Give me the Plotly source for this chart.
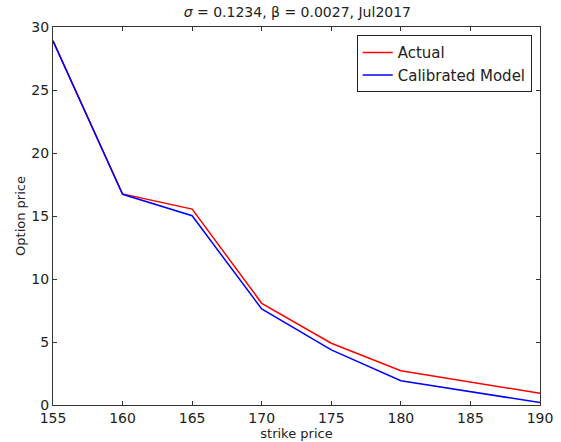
import plotly.graph_objects as go

strikes = [155, 160, 165, 170, 175, 180, 190]
actual = [28.9, 16.75, 15.55, 8.07, 4.9, 2.72, 0.93]
model = [28.9, 16.72, 15.02, 7.62, 4.37, 1.93, 0.19]
x_ticks = [155, 160, 165, 170, 175, 180, 185, 190]
y_ticks = [0, 5, 10, 15, 20, 25, 30]
title_text = "<i>σ</i> = 0.1234, β = 0.0027, Jul2017"

fig = go.Figure()
fig.add_trace(go.Scatter(x=strikes, y=actual, mode="lines", name="Actual",
                         line=dict(color="#ff0000", width=1.5)))
fig.add_trace(go.Scatter(x=strikes, y=model, mode="lines", name="Calibrated Model",
                         line=dict(color="#0000ff", width=1.5)))

axis_common = dict(showline=True, linecolor="#333333", linewidth=1, mirror="ticks",
                   ticks="inside", ticklen=4, tickcolor="#333333", showgrid=False,
                   zeroline=False, automargin=False,
                   tickfont=dict(size=14, color="#222222"))

fig.update_layout(
    width=561, height=442,
    margin=dict(l=53, r=21, t=27, b=37),
    paper_bgcolor="white", plot_bgcolor="white",
    font=dict(family="DejaVu Sans", color="#222222"),
    title=dict(text=title_text, x=0.53, xanchor="center", xref="container",
               y=1 - 12 / 442, yref="container", yanchor="middle", automargin=False,
               font=dict(size=14, color="#222222")),
    xaxis=dict(range=[155, 190], tickvals=x_ticks,
               title=dict(text="strike price", font=dict(size=13), standoff=4), **axis_common),
    yaxis=dict(range=[0, 30], tickvals=y_ticks, ticklabelstandoff=0,
               title=dict(text="Option price", font=dict(size=13), standoff=2), **axis_common),
    legend=dict(x=0.983, y=0.978, xanchor="right", yanchor="top",
                bordercolor="#222222", borderwidth=1, bgcolor="white",
                font=dict(size=15, color="#222222"), itemwidth=30,
                tracegroupgap=2),
    showlegend=True,
)

fig.write_html("out.html", config={"displayModeBar": False},
               post_script="document.body.style.margin='0px';document.body.style.padding='0px';")
